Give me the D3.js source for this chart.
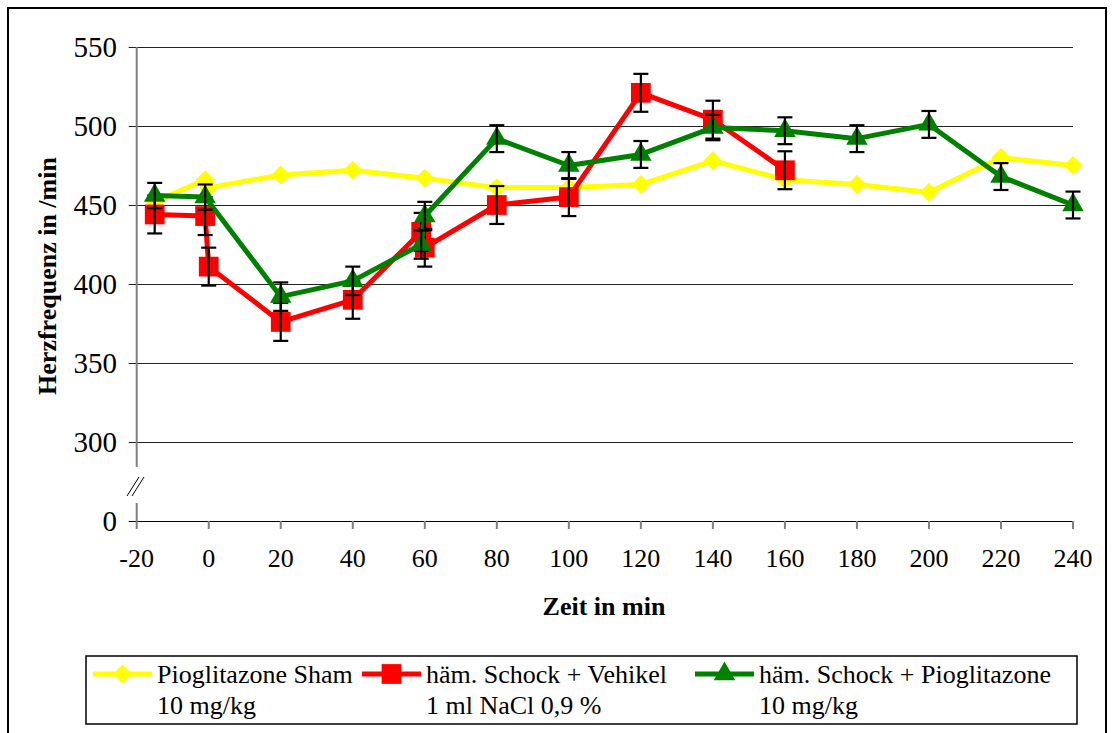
<!DOCTYPE html>
<html>
<head>
<meta charset="utf-8">
<script src="https://cdn.jsdelivr.net/npm/d3@7"></script>
<style>
	body { margin: 0; background: #fff; }
	text { font-family: "Liberation Serif", "Times New Roman", serif; fill: #000; }
</style>
</head>
<body>
<div class="container"></div>
<script>
// x values are minutes, y values heart rate per minute
var shamTime = [-15, -1, 0, 20, 40, 60, 80, 100, 120, 140, 160, 180, 200, 220, 240];
var shamHF   = [452, 466, 461, 469, 472, 467, 461, 461, 463, 478, 466, 463, 458, 480, 475];

var vehTime = [-15, -1, 0, 20, 40, 59, 60, 80, 100, 120, 140, 160];
var vehHF   = [444, 443, 411, 376, 390, 433, 423, 450, 455, 521, 504, 472];
var vehErr  = [12, 12, 12, 12, 12, 12, 12, 12, 12, 12, 12, 12];

var pioTime = [-15, -1, 20, 40, 59, 60, 80, 100, 120, 140, 160, 180, 200, 220, 240];
var pioHF   = [456, 455, 392, 402, 425, 443, 492, 475, 482, 499, 497, 492, 501, 468, 450];
var pioErr  = [8, 8, 9, 9, 9, 9, 8.5, 8.5, 8.5, 8, 8.5, 8.5, 8.5, 8.5, 8.5];

var xTicks = [-20, 0, 20, 40, 60, 80, 100, 120, 140, 160, 180, 200, 220, 240];
var yTicks = [0, 300, 350, 400, 450, 500, 550];

var legendNames = [["Pioglitazone Sham", "10 mg/kg"],
	["häm. Schock + Vehikel", "1 ml NaCl 0,9 %"],
	["häm. Schock + Pioglitazone", "10 mg/kg"]];

var heartChart = function () {

	var width = 1114, height = 733;
	var plotLeft = 136.7, plotRight = 1073, plotTop = 47, plotBottom = 521;

	var svg = d3.select('.container').append("svg")
		.attr("width", width)
		.attr("height", height);

	// outer frame
	svg.append("rect")
		.attr("x", 8).attr("y", 8)
		.attr("width", 1098).attr("height", 760)
		.style("fill", "none").style("stroke", "#000").style("stroke-width", 2);

	var x = d3.scaleLinear().domain([-20, 240]).range([plotLeft, plotRight]);
	// broken axis: 0..300 squeezed into a short piece
	var y = d3.scaleLinear().domain([0, 300, 550]).range([plotBottom, 442, plotTop]);

	// grid lines
	svg.append("g").selectAll("line")
		.data(yTicks)
		.enter().append("line")
			.attr("x1", plotLeft - 8).attr("x2", plotRight)
			.attr("y1", function (d) { return Math.round(y(d)) + 0.5; })
			.attr("y2", function (d) { return Math.round(y(d)) + 0.5; })
			.style("stroke", function (d) { return d === 0 ? "#000" : "#222"; })
			.style("stroke-width", 1);

	// y axis line with break
	svg.append("line")
		.attr("x1", plotLeft).attr("x2", plotLeft)
		.attr("y1", plotTop).attr("y2", 467)
		.style("stroke", "#808080").style("stroke-width", 2);
	svg.append("line")
		.attr("x1", plotLeft).attr("x2", plotLeft)
		.attr("y1", 503).attr("y2", plotBottom)
		.style("stroke", "#808080").style("stroke-width", 2);
	svg.append("g").selectAll("line")
		.data([0, 5])
		.enter().append("line")
			.attr("x1", function (d) { return 127 + d; })
			.attr("y1", 496)
			.attr("x2", function (d) { return 139 + d; })
			.attr("y2", 477)
			.style("stroke", "#000").style("stroke-width", 1);

	// y tick labels
	svg.append("g").selectAll("text")
		.data(yTicks)
		.enter().append("text")
			.attr("x", 117)
			.attr("y", function (d) { return y(d); })
			.attr("dy", "0.35em")
			.attr("text-anchor", "end")
			.style("font-size", "29px")
			.text(function (d) { return d; });

	// x ticks and labels
	svg.append("g").selectAll("line")
		.data(xTicks)
		.enter().append("line")
			.attr("x1", function (d) { return x(d); })
			.attr("x2", function (d) { return x(d); })
			.attr("y1", plotBottom).attr("y2", plotBottom + 8)
			.style("stroke", "#808080").style("stroke-width", 2);
	svg.append("g").selectAll("text")
		.data(xTicks)
		.enter().append("text")
			.attr("x", function (d) { return x(d); })
			.attr("y", 567)
			.attr("text-anchor", "middle")
			.style("font-size", "26px")
			.text(function (d) { return d; });

	// axis titles
	svg.append("text")
		.attr("x", 604).attr("y", 615)
		.attr("text-anchor", "middle")
		.style("font-size", "26px").style("font-weight", "bold")
		.text("Zeit in min");
	svg.append("text")
		.attr("transform", "translate(56,276) rotate(-90)")
		.attr("text-anchor", "middle")
		.style("font-size", "26px").style("font-weight", "bold")
		.text("Herzfrequenz in /min");

	var diamond = d3.symbol().type(d3.symbolSquare).size(180);
	var square = d3.symbol().type(d3.symbolSquare).size(390);
	var triangle = d3.symbol().type(d3.symbolTriangle).size(200);

	var series = [
		{ t: shamTime, v: shamHF, e: null, color: "#ffff00", sym: diamond, rot: 45 },
		{ t: vehTime, v: vehHF, e: vehErr, color: "#ff0000", sym: square, rot: 0 },
		{ t: pioTime, v: pioHF, e: pioErr, color: "#008000", sym: triangle, rot: 0 }
	];

	var line = d3.line()
		.x(function (d) { return x(d.t); })
		.y(function (d) { return y(d.v); });

	series.forEach(function (s) {
		var pts = s.t.map(function (t, i) {
			return { t: t, v: s.v[i], e: s.e ? s.e[i] : 0 };
		});
		var g = svg.append("g");

		g.append("path")
			.datum(pts)
			.attr("d", line)
			.style("fill", "none")
			.style("stroke", s.color)
			.style("stroke-width", 5)
			.style("stroke-linejoin", "round");

		g.selectAll(".mk")
			.data(pts)
			.enter().append("path")
				.attr("d", s.sym)
				.attr("transform", function (d) {
					return "translate(" + x(d.t) + "," + y(d.v) + ") rotate(" + s.rot + ")";
				})
				.style("fill", s.color);

		if (s.e) {
			var eb = g.selectAll(".eb")
				.data(pts)
				.enter().append("g")
					.style("stroke", "#000")
					.style("stroke-width", 2.2);
			eb.append("line")
				.attr("x1", function (d) { return x(d.t); })
				.attr("x2", function (d) { return x(d.t); })
				.attr("y1", function (d) { return y(d.v + d.e); })
				.attr("y2", function (d) { return y(d.v - d.e); });
			[1, -1].forEach(function (sgn) {
				eb.append("line")
					.attr("x1", function (d) { return x(d.t) - 7.5; })
					.attr("x2", function (d) { return x(d.t) + 7.5; })
					.attr("y1", function (d) { return y(d.v + sgn * d.e); })
					.attr("y2", function (d) { return y(d.v + sgn * d.e); });
			});
		}
	});

	// legend
	var legend = svg.append("g");
	legend.append("rect")
		.attr("x", 86).attr("y", 656)
		.attr("width", 991).attr("height", 68)
		.style("fill", "#fff").style("stroke", "#000").style("stroke-width", 1.5);

	var legendX = [93, 362, 695];
	series.forEach(function (s, i) {
		var lx = legendX[i];
		legend.append("line")
			.attr("x1", lx).attr("x2", lx + 59)
			.attr("y1", 674).attr("y2", 674)
			.style("stroke", s.color).style("stroke-width", 5);
		legend.append("path")
			.attr("d", s.sym)
			.attr("transform", "translate(" + (lx + 29.5) + ",674) rotate(" + s.rot + ")")
			.style("fill", s.color);
		legend.append("text")
			.attr("x", lx + 64).attr("y", 683)
			.style("font-size", "26px")
			.text(legendNames[i][0]);
		legend.append("text")
			.attr("x", lx + 64).attr("y", 714)
			.style("font-size", "26px")
			.text(legendNames[i][1]);
	});
};

heartChart();
</script>
</body>
</html>
